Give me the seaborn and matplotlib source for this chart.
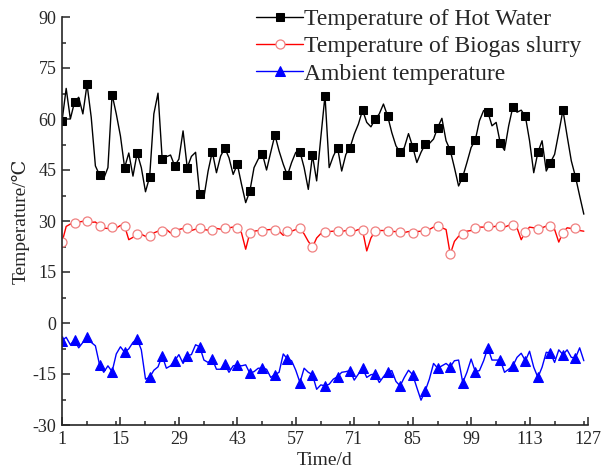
import numpy as np
import pandas as pd
import matplotlib
matplotlib.use("Agg")
import matplotlib.pyplot as plt
import seaborn as sns
from matplotlib.ticker import MultipleLocator

days = list(range(1, 127))

hot_water = [59.3, 69.0, 60.0, 65.0, 66.4, 61.5, 70.2, 60.5, 46.2, 43.5,
             42.5, 45.7, 67.2, 61.5, 55.0, 45.7, 50.0, 43.2, 50.0, 45.7,
             38.6, 43.0, 61.5, 67.6, 48.2, 48.9, 49.4, 46.2, 48.2, 56.5,
             45.7, 49.0, 50.2, 37.8, 37.0, 44.7, 50.4, 44.2, 49.1, 51.4,
             48.6, 43.7, 46.7, 40.8, 35.4, 38.8, 45.7, 48.2, 49.8, 45.0,
             50.2, 55.3, 50.6, 46.7, 43.4, 47.2, 50.2, 50.4, 45.7, 39.3,
             49.3, 41.8, 54.6, 66.9, 45.7, 49.1, 51.6, 44.7, 49.6, 51.6,
             55.5, 58.5, 62.6, 59.0, 57.7, 59.9, 61.5, 64.4, 60.9, 56.0,
             52.1, 50.2, 51.6, 55.7, 51.9, 47.2, 50.2, 52.6, 52.8, 54.1,
             57.5, 60.2, 53.6, 50.8, 45.7, 40.3, 43.0, 47.2, 51.6, 53.8,
             59.5, 62.5, 62.1, 58.0, 59.0, 52.8, 50.8, 58.0, 63.6, 62.0,
             62.6, 60.8, 53.6, 44.2, 50.2, 53.6, 44.7, 47.2, 49.6, 56.0,
             62.6, 55.0, 47.7, 43.0, 37.4, 32.0]

biogas_slurry = [23.7, 28.4, 29.1, 29.3, 29.7, 29.9, 29.9, 29.6, 29.7, 28.6,
                 27.9, 27.8, 28.3, 27.9, 28.7, 28.5, 24.5, 25.2, 26.3, 26.1,
                 25.5, 25.5, 26.5, 27.0, 27.2, 27.5, 26.5, 26.8, 27.5, 27.8,
                 27.8, 27.2, 27.6, 27.8, 27.5, 27.3, 27.4, 27.8, 27.6, 27.8,
                 28.0, 28.2, 28.0, 26.5, 21.7, 26.5, 27.0, 27.2, 27.2, 27.4,
                 27.5, 27.4, 27.0, 25.8, 27.0, 27.0, 27.5, 27.8, 26.2, 24.0,
                 22.3, 25.0, 26.3, 26.8, 26.9, 27.0, 27.0, 26.9, 27.2, 27.2,
                 27.0, 27.5, 27.3, 21.2, 25.0, 27.0, 27.2, 27.2, 27.2, 26.9,
                 26.9, 26.9, 26.6, 26.9, 26.6, 26.9, 27.0, 27.0, 27.5, 28.2,
                 28.4, 28.0, 27.5, 20.2, 24.0, 25.5, 26.2, 27.0, 27.2, 27.8,
                 28.2, 28.2, 28.4, 28.2, 28.5, 28.5, 28.2, 28.7, 28.7, 28.0,
                 24.5, 26.8, 28.2, 28.0, 27.7, 28.0, 28.5, 28.5, 27.5, 23.8,
                 26.6, 28.0, 27.8, 27.8, 27.2, 27.0]

ambient = [-5.2, -4.2, -6.4, -5.0, -7.3, -5.7, -4.2, -5.7, -6.7, -12.3,
           -14.5, -12.6, -14.3, -9.1, -7.0, -8.6, -7.6, -5.7, -4.7, -7.9,
           -16.5, -16.0, -13.9, -12.9, -9.6, -13.3, -12.6, -11.1, -9.3, -11.9,
           -9.6, -9.3, -6.4, -7.0, -10.9, -11.6, -10.6, -13.6, -13.6, -12.1,
           -14.5, -12.6, -12.3, -12.6, -12.3, -14.8, -14.3, -13.3, -13.3, -13.6,
           -16.0, -15.2, -14.5, -9.1, -10.6, -11.1, -13.9, -17.5, -13.3, -14.5,
           -15.2, -19.5, -18.2, -18.5, -18.0, -16.5, -15.8, -14.5, -14.3, -14.0,
           -16.8, -15.0, -13.3, -16.0, -15.2, -15.0, -17.5, -15.8, -14.5, -14.0,
           -17.2, -18.5, -16.0, -13.9, -15.2, -19.0, -22.7, -20.0, -16.5, -11.9,
           -13.3, -12.6, -11.9, -12.9, -11.1, -10.9, -17.5, -14.5, -10.6, -14.3,
           -14.0, -11.1, -7.3, -10.9, -10.9, -10.9, -14.5, -13.6, -12.6, -10.1,
           -8.9, -11.1, -8.3, -13.0, -16.0, -13.0, -8.6, -8.9, -11.6, -7.9,
           -9.3, -7.9, -10.1, -10.3, -7.3, -11.1]

labels = ["Temperature of Hot Water", "Temperature of Biogas slurry", "Ambient temperature"]
x_ticks = [1, 15, 29, 43, 57, 71, 85, 99, 113, 127]
y_ticks = [-30, -15, 0, 15, 30, 45, 60, 75, 90]

df = pd.DataFrame({"day": days, "hot": hot_water, "slurry": biogas_slurry, "amb": ambient})

sns.set_style("ticks")
serif = ["Liberation Serif", "DejaVu Serif", "DejaVu Sans"]
plt.rcParams["font.family"] = serif
plt.rcParams["axes.unicode_minus"] = False

fig = plt.figure(figsize=(6.03, 4.74), dpi=100)
ax = fig.add_axes([62 / 603, 1 - 425 / 474, (588 - 62) / 603, (425 - 17) / 474])

sns.lineplot(data=df, x="day", y="hot", ax=ax, color="black", lw=1.0,
             marker="s", markersize=6, markevery=3, mfc="black", mec="black",
             label=labels[0])
sns.lineplot(data=df, x="day", y="slurry", ax=ax, color="red", lw=1.0,
             marker="o", markersize=6.5, markevery=3, mfc="white", mec="#f08080",
             mew=0.9, label=labels[1])
sns.lineplot(data=df, x="day", y="amb", ax=ax, color="blue", lw=1.0,
             marker="^", markersize=7, markevery=3, mfc="blue", mec="blue",
             label=labels[2])

ax.set_xlim(1, 127)
ax.set_ylim(-30, 90)
ax.set_xticks(x_ticks)
ax.set_yticks(y_ticks)
ax.xaxis.set_minor_locator(MultipleLocator(7))
ax.yaxis.set_minor_locator(MultipleLocator(7.5))
ax.tick_params(which="major", direction="in", length=6, width=1.1, labelsize=13, pad=4)
ax.tick_params(which="minor", direction="in", length=3, width=1.1)
for s in ["top", "right"]:
    ax.spines[s].set_visible(False)
for s in ["left", "bottom"]:
    ax.spines[s].set_linewidth(1.2)

ax.set_xlabel("Time/d", fontsize=14, labelpad=3)
ax.set_ylabel("Temperature/\u2103", fontsize=14, labelpad=2)

leg = ax.legend(loc="upper left", bbox_to_anchor=(0.36, 1.033), frameon=False,
                fontsize=17, handlelength=2.0, handletextpad=0.05,
                labelspacing=0.25, borderpad=0.2, borderaxespad=0)

fig.savefig("out.png", dpi=100)
